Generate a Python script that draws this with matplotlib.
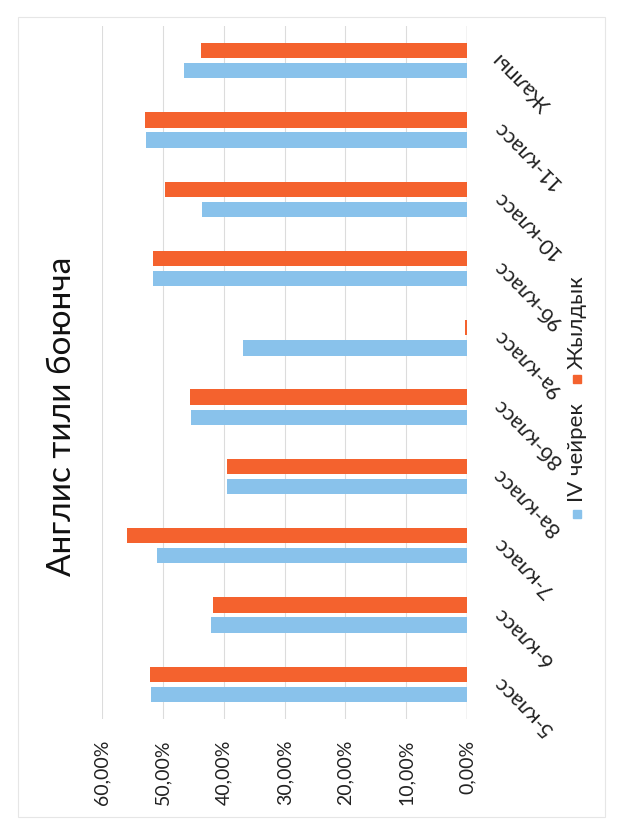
import matplotlib.pyplot as plt
from matplotlib.patches import Rectangle
from matplotlib.ticker import FuncFormatter
import numpy as np

plt.rcParams['font.family'] = ['Lato', 'Open Sans', 'DejaVu Sans']

# categories from bottom (5-класс) to top (Жалпы) as in the rotated picture
categories = ['5-класс', '6-класс', '7-класс', '8а-класс', '8б-класс',
              '9а-класс', '9б-класс', '10-класс', '11-класс', 'Жалпы']
q4 = [0.520, 0.420, 0.510, 0.395, 0.454, 0.369, 0.516, 0.435, 0.528, 0.466]
annual = [0.521, 0.418, 0.559, 0.395, 0.456, 0.004, 0.516, 0.497, 0.529, 0.438]
series_names = ['IV чейрек', 'Жылдык']
ticks = [0.0, 0.1, 0.2, 0.3, 0.4, 0.5, 0.6]

blue = '#89C2EB'
orange = '#F4622E'

fig = plt.figure(figsize=(6.2, 8.3), dpi=100)
W, H = 620, 830


def fx(px):
    return px / W


def fy(py):
    return 1 - py / H


ax = fig.add_axes([fx(102), fy(719), fx(467) - fx(102), fy(26) - fy(719)])

y = np.arange(len(categories))
h = 0.22
off = 0.145
ax.barh(y - off, q4, height=h, color=blue, zorder=3)
ax.barh(y + off, annual, height=h, color=orange, zorder=3)

ax.set_xlim(0.6, 0)
ax.set_ylim(-0.5, len(categories) - 0.5)
ax.set_xticks(ticks)
ax.xaxis.set_major_formatter(FuncFormatter(lambda v, p: f'{v * 100:.2f}%'.replace('.', ',')))
ax.tick_params(axis='x', length=0, pad=15, labelsize=14, labelrotation=90, colors='#222222')
ax.set_yticks([])
for s in ax.spines.values():
    s.set_visible(False)
ax.grid(axis='x', color='#dcdcdc', lw=0.8, zorder=0)
ax.axvline(0, color='#cfcfcf', lw=1.0, zorder=1)

for i, name in enumerate(categories):
    ax.annotate(name, xy=(0, i), xytext=(21, 4), textcoords='offset points',
                rotation=135, rotation_mode='anchor', ha='right', va='center',
                fontsize=15.5, color='#222222')

fig.text(fx(62), fy(416), 'Англис тили боюнча', rotation=90, ha='center', va='center',
         fontsize=24, color='#111111')

# legend drawn by hand, rotated with the chart
for name, col, sq_y, txt_y in [(series_names[0], blue, 514, 502),
                               (series_names[1], orange, 379, 369)]:
    fig.add_artist(Rectangle((fx(573), fy(sq_y + 4)), fx(8), 8 / H,
                             transform=fig.transFigure, color=col))
    fig.text(fx(577), fy(txt_y), name, rotation=90, ha='center', va='bottom',
             fontsize=16, color='#222222')

# faint chart border
fig.add_artist(Rectangle((fx(18), fy(817)), fx(605) - fx(18), fy(17) - fy(817),
                         transform=fig.transFigure, fill=False, ec='#e6e6e6', lw=0.8))

fig.savefig('out.png', dpi=100)
